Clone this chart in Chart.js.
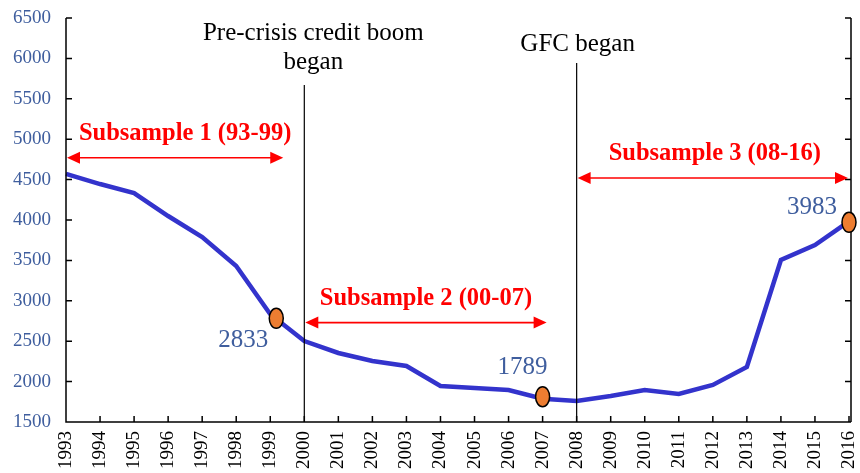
<!DOCTYPE html>
<html>
<head>
<meta charset="utf-8">
<script src="https://cdn.jsdelivr.net/npm/chart.js@4/dist/chart.umd.min.js"></script>
<style>
  body { margin: 0; background: #fff; }
  #wrap { width: 860px; height: 473px; }
</style>
</head>
<body>
<div id="wrap"><canvas id="c" width="860" height="473"></canvas></div>
<script>
// years along the x-axis
const years = ['1993', '1994', '1995', '1996', '1997', '1998', '1999', '2000',
  '2001', '2002', '2003', '2004', '2005', '2006', '2007', '2008', '2009',
  '2010', '2011', '2012', '2013', '2014', '2015', '2016'];
// the line
const values = [4570, 4445, 4334, 4049, 3790, 3431, 2833, 2502, 2354, 2255,
  2193, 1945, 1920, 1896, 1789, 1760, 1822, 1896, 1847, 1958, 2180, 3505,
  3690, 3983];
// highlighted points with their labels
const marked = ['1999', '2007', '2016'];
// events
const events = [
  { year: '2000', text: ['Pre-crisis credit boom', 'began'] },
  { year: '2008', text: ['GFC began'] }
];
// subsample ranges and the level of their arrows
const subsamples = [
  { from: '1993', to: '1999', level: 4770, text: 'Subsample 1 (93-99)' },
  { from: '2000', to: '2007', level: 2730, text: 'Subsample 2 (00-07)' },
  { from: '2008', to: '2016', level: 4520, text: 'Subsample 3 (08-16)' }
];

const SERIF = '"Liberation Serif", "DejaVu Serif", serif';
const BLUE_TXT = '#3F5E9E';

// small hand offsets (px) for annotation placement
const arrowEnd = { '1999': 13, '2007': 4, '2016': -1 };
const textShift = { '1999': 10, '2007': 0, '2016': 2 };
const markerShift = { '1999': [6, 4], '2007': [0, -2], '2016': [0, 1] };
const labelShift = { '1999': [-33, 22], '2007': [-20, -29], '2016': [-37, -15] };

function arrowHead(ctx, x, y, dir) {
  ctx.beginPath();
  ctx.moveTo(x, y);
  ctx.lineTo(x - dir * 13, y - 6);
  ctx.lineTo(x - dir * 13, y + 6);
  ctx.closePath();
  ctx.fill();
}

const decorations = {
  id: 'decorations',
  afterDraw(chart) {
    const ctx = chart.ctx;
    const xs = chart.scales.x, ys = chart.scales.y;
    const a = chart.chartArea;
    ctx.save();

    // axis frame and inner ticks
    ctx.strokeStyle = '#000';
    ctx.lineWidth = 1.5;
    ctx.beginPath();
    ctx.moveTo(a.left, a.top); ctx.lineTo(a.left, a.bottom); ctx.lineTo(a.right + 2, a.bottom);
    ctx.moveTo(a.right + 2, a.top); ctx.lineTo(a.right + 2, a.bottom);
    ys.ticks.forEach(t => {
      const y = ys.getPixelForValue(t.value);
      ctx.moveTo(a.left, y); ctx.lineTo(a.left + 6, y);
      ctx.moveTo(a.right + 2, y); ctx.lineTo(a.right - 4, y);
    });
    years.forEach((yr, i) => {
      const x = xs.getPixelForValue(i);
      ctx.moveTo(x, a.bottom); ctx.lineTo(x, a.bottom - 6);
    });
    ctx.stroke();

    // event lines and captions
    ctx.lineWidth = 1.2;
    ctx.fillStyle = '#000';
    ctx.font = '25px ' + SERIF;
    ctx.textAlign = 'center';
    ctx.textBaseline = 'middle';
    events.forEach(ev => {
      const x = xs.getPixelForValue(years.indexOf(ev.year));
      const n = ev.text.length;
      const top = n > 1 ? 85 : 63;
      ctx.beginPath();
      ctx.moveTo(x, top); ctx.lineTo(x, a.bottom);
      ctx.stroke();
      ev.text.forEach((line, k) => {
        ctx.fillText(line, x + (n > 1 ? 9 : 1), (n > 1 ? 33 : 44) + k * 29);
      });
    });

    // subsample arrows
    ctx.strokeStyle = '#FF0000';
    ctx.fillStyle = '#FF0000';
    ctx.lineWidth = 1.6;
    ctx.font = 'bold 24.5px ' + SERIF;
    subsamples.forEach(s => {
      const x1 = xs.getPixelForValue(years.indexOf(s.from)) + 1;
      const x2 = xs.getPixelForValue(years.indexOf(s.to)) + arrowEnd[s.to];
      const y = ys.getPixelForValue(s.level);
      ctx.beginPath();
      ctx.moveTo(x1 + 10, y); ctx.lineTo(x2 - 10, y);
      ctx.stroke();
      arrowHead(ctx, x1, y, -1);
      arrowHead(ctx, x2, y, 1);
      ctx.fillText(s.text, (x1 + x2) / 2 + textShift[s.to], y - 24);
    });

    // highlighted points
    ctx.font = '25px ' + SERIF;
    marked.forEach(yr => {
      const i = years.indexOf(yr);
      const x = xs.getPixelForValue(i) + markerShift[yr][0];
      const y = ys.getPixelForValue(values[i]) + markerShift[yr][1];
      ctx.beginPath();
      ctx.ellipse(x, y, 7, 10, 0, 0, Math.PI * 2);
      ctx.fillStyle = '#ED7D31';
      ctx.fill();
      ctx.strokeStyle = '#000';
      ctx.lineWidth = 1.5;
      ctx.stroke();
      ctx.fillStyle = BLUE_TXT;
      ctx.fillText(String(values[i]), x + labelShift[yr][0], y + labelShift[yr][1]);
    });

    ctx.restore();
  }
};

new Chart(document.getElementById('c'), {
  type: 'line',
  data: {
    labels: years,
    datasets: [{
      data: values,
      borderColor: '#3333CC',
      borderWidth: 4.5,
      pointRadius: 0,
      fill: false,
      tension: 0
    }]
  },
  options: {
    responsive: false,
    animation: false,
    layout: { padding: { top: 18, right: 11, left: 0, bottom: 0 } },
    plugins: { legend: { display: false }, tooltip: { enabled: false } },
    scales: {
      x: {
        offset: false,
        grid: { display: false, drawTicks: false },
        border: { display: false },
        ticks: {
          minRotation: 90, maxRotation: 90, autoSkip: false, padding: 9,
          color: '#000', font: { family: SERIF, size: 19 }
        },
        afterFit(s) { s.height = 51; s.paddingLeft = 0; s.paddingRight = 0; }
      },
      y: {
        min: 1500, max: 6500,
        grid: { display: false, drawTicks: false },
        border: { display: false },
        ticks: {
          stepSize: 500, padding: 15,
          color: BLUE_TXT, font: { family: SERIF, size: 19 },
          callback: v => String(v)
        },
        afterFit(s) { s.width = 66; s.paddingTop = 0; s.paddingBottom = 0; }
      }
    }
  },
  plugins: [decorations]
});
</script>
</body>
</html>
